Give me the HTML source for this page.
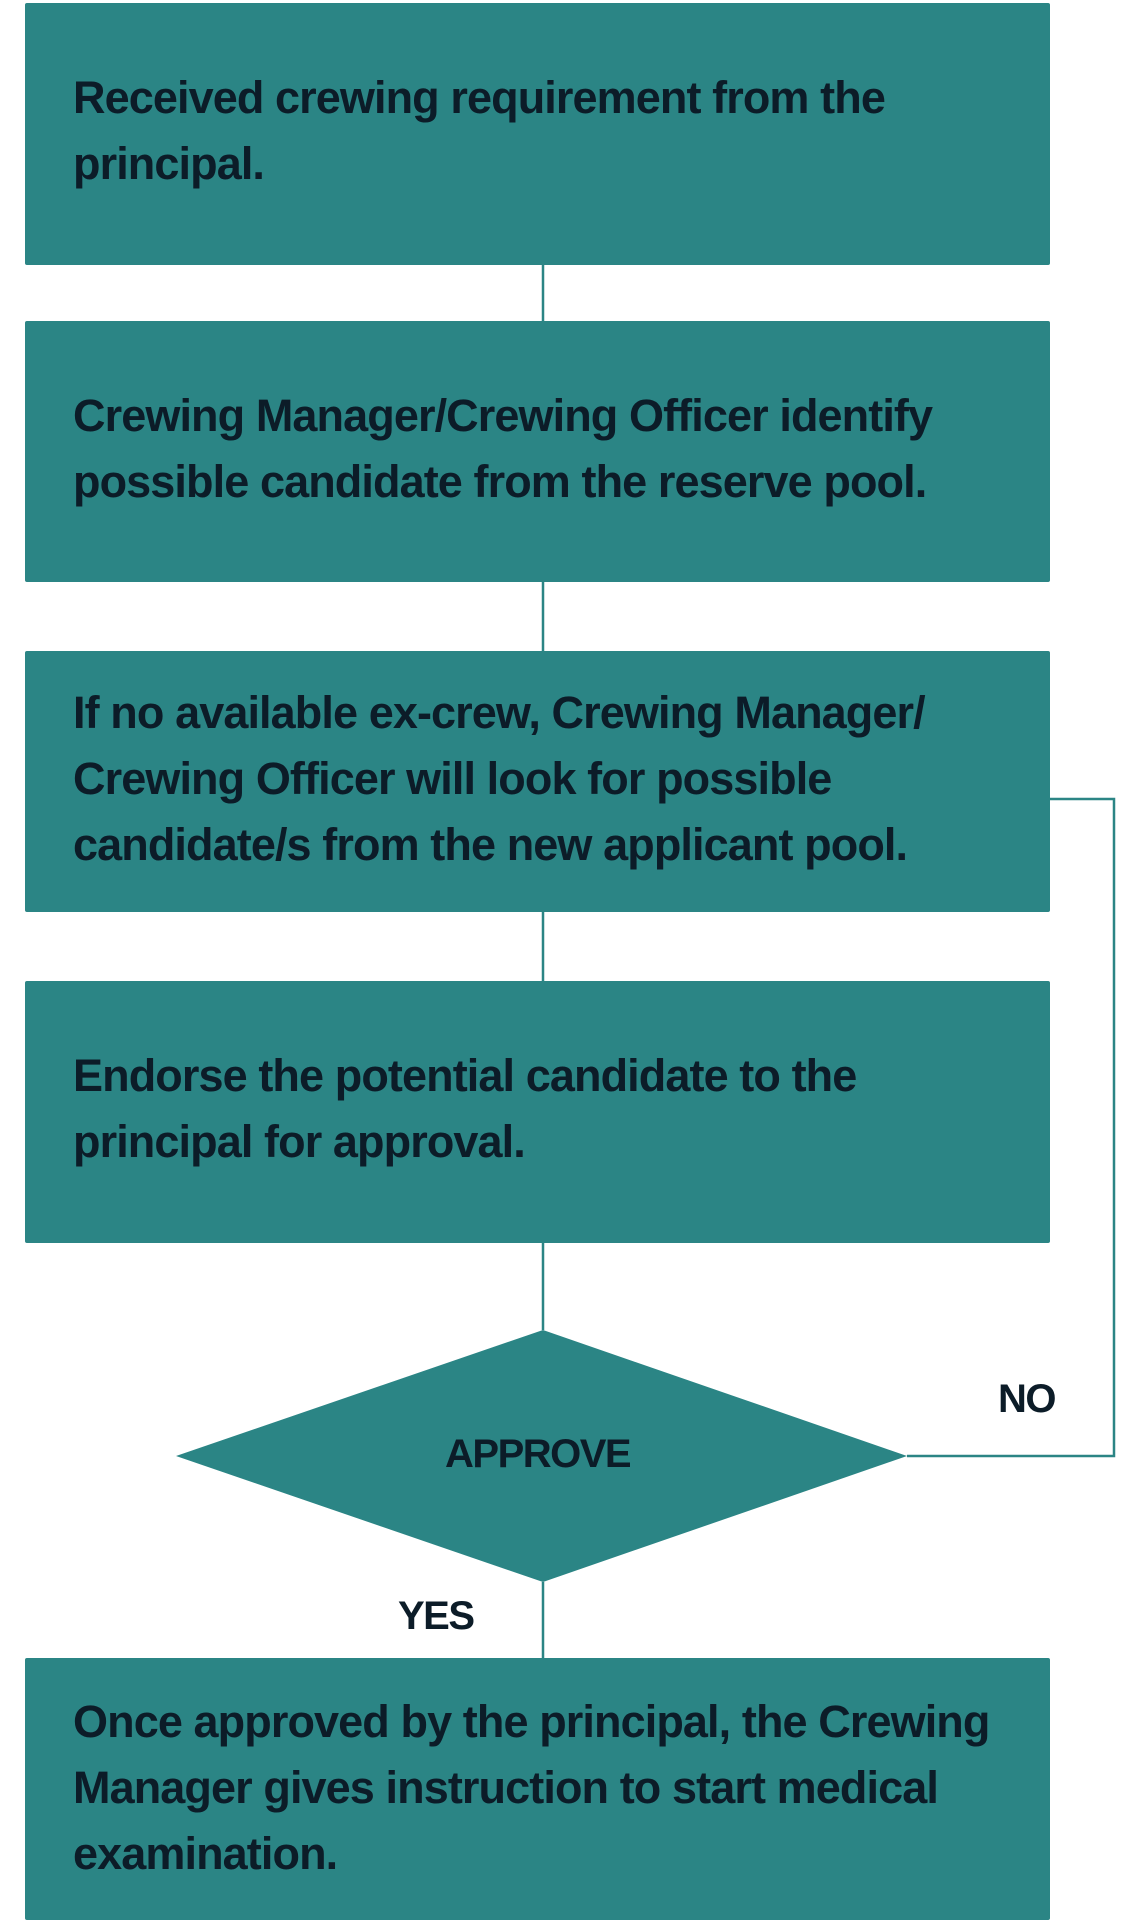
<!DOCTYPE html>
<html><head><style>
html,body{margin:0;padding:0;background:#fff;}
body{width:1142px;height:1920px;position:relative;overflow:hidden;font-family:"Liberation Sans",sans-serif;}
.b{position:absolute;left:25px;width:1025px;background:#2b8585;border-radius:2px;}
.t{position:absolute;left:73px;color:#0c1c28;font-weight:bold;font-size:45px;letter-spacing:-0.9px;line-height:66px;white-space:nowrap;}
.l{position:absolute;color:#0c1c28;font-weight:bold;font-size:40px;letter-spacing:-1.5px;}
</style></head><body>
<svg width="1142" height="1920" style="position:absolute;left:0;top:0">
<g stroke="#2b8585" stroke-width="2.5" fill="none">
<line x1="543" y1="265" x2="543" y2="321"/>
<line x1="543" y1="582" x2="543" y2="651"/>
<line x1="543" y1="912" x2="543" y2="981"/>
<line x1="543" y1="1243" x2="543" y2="1330"/>
<line x1="543" y1="1582" x2="543" y2="1658"/>
<polyline points="1050,799 1114,799 1114,1456 907,1456"/>
</g>
<polygon points="543,1330 907,1456 543,1582 176,1456" fill="#2b8585"/>
</svg>
<div class="b" style="top:3px;height:262px"></div>
<div class="b" style="top:321px;height:261px"></div>
<div class="b" style="top:651px;height:261px"></div>
<div class="b" style="top:981px;height:262px"></div>
<div class="b" style="top:1658px;height:262px"></div>
<div class="t" style="top:65px">Received crewing requirement from the<br>principal.</div>
<div class="t" style="top:383px">Crewing Manager/Crewing Officer identify<br>possible candidate from the reserve pool.</div>
<div class="t" style="top:680px">If no available ex-crew, Crewing Manager/<br>Crewing Officer will look for possible<br>candidate/s from the new applicant pool.</div>
<div class="t" style="top:1043px">Endorse the potential candidate to the<br>principal for approval.</div>
<div class="t" style="top:1689px">Once approved by the principal, the Crewing<br>Manager gives instruction to start medical<br>examination.</div>
<div class="l" style="left:445px;top:1432px">APPROVE</div>
<div class="l" style="left:998px;top:1377px">NO</div>
<div class="l" style="left:398px;top:1594px">YES</div>
</body></html>
